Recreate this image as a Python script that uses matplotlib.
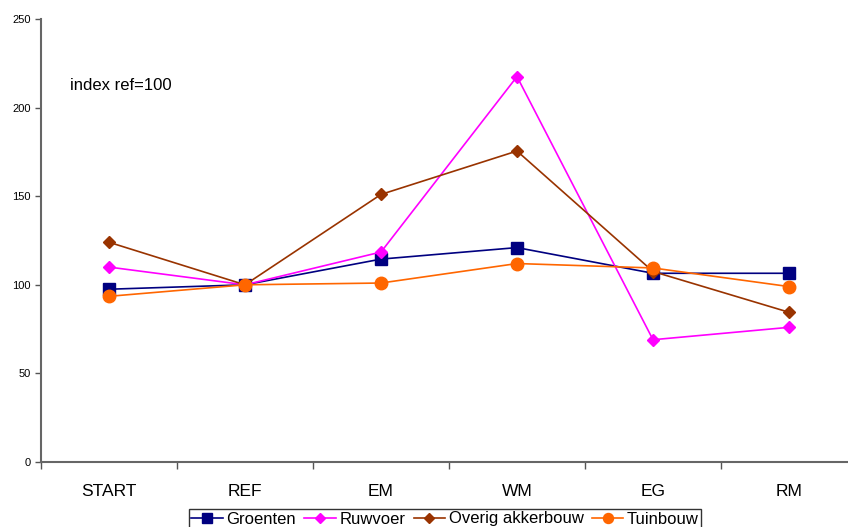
import matplotlib
matplotlib.use("Agg")
import matplotlib.pyplot as plt
import numpy as np

categories = ["START", "REF", "EM", "WM", "EG", "RM"]
groenten = [97.5, 100, 114.5, 121, 106.5, 106.5]
ruwvoer = [110, 100, 118.5, 217.5, 69, 76]
overig = [124, 100, 151, 175.5, 107.5, 84.5]
tuinbouw = [93.5, 100, 101, 112, 109.5, 99]

plt.rcParams['font.family'] = ['Liberation Sans', 'DejaVu Sans']

fig = plt.figure(figsize=(8.48, 5.27), dpi=100)
W, H = 848, 527
ax = fig.add_axes([41 / W, 65 / H, (857 - 41) / W, (462 - 19) / H])

x = np.arange(len(categories))
ax.plot(x, groenten, color="#000080", marker="s", markersize=8.5, lw=1.2, label="Groenten")
ax.plot(x, ruwvoer, color="#FF00FF", marker="D", markersize=6.5, lw=1.2, label="Ruwvoer")
ax.plot(x, overig, color="#993300", marker="D", markersize=6.5, lw=1.2, label="Overig akkerbouw")
ax.plot(x, tuinbouw, color="#FF6600", marker="o", markersize=9, lw=1.2, label="Tuinbouw")

ax.set_xlim(-0.5, len(categories) - 0.5)
ax.set_ylim(0, 250)
ax.set_yticks([0, 50, 100, 150, 200, 250])
ax.tick_params(axis="y", labelsize=8, length=4, color="#555555", width=1)
ax.set_xticks(x)
ax.set_xticklabels(categories, fontsize=12.5)
ax.tick_params(axis="x", which="major", length=0, pad=16)
ax.set_xticks(np.arange(-0.5, len(categories), 1.0), minor=True)
ax.tick_params(axis="x", which="minor", length=5, color="#555555", width=1)
for s in ["top", "right"]:
    ax.spines[s].set_visible(False)
for s in ["left", "bottom"]:
    ax.spines[s].set_color("#666666")
    ax.spines[s].set_linewidth(1.5)

ax.text(70 / W, 1 - 86 / H, "index ref=100", transform=fig.transFigure, fontsize=12,
        va="center", ha="left")

leg = fig.legend(loc="upper center", bbox_to_anchor=(445 / W, 1 - 509 / H), ncol=4,
                 fontsize=12, frameon=True, fancybox=False, edgecolor="black",
                 handlelength=1.9, handletextpad=0.2, columnspacing=0.5,
                 borderpad=0.15, borderaxespad=0, markerscale=0.8)
leg.get_frame().set_linewidth(1.0)

fig.savefig("out.png", dpi=100)
